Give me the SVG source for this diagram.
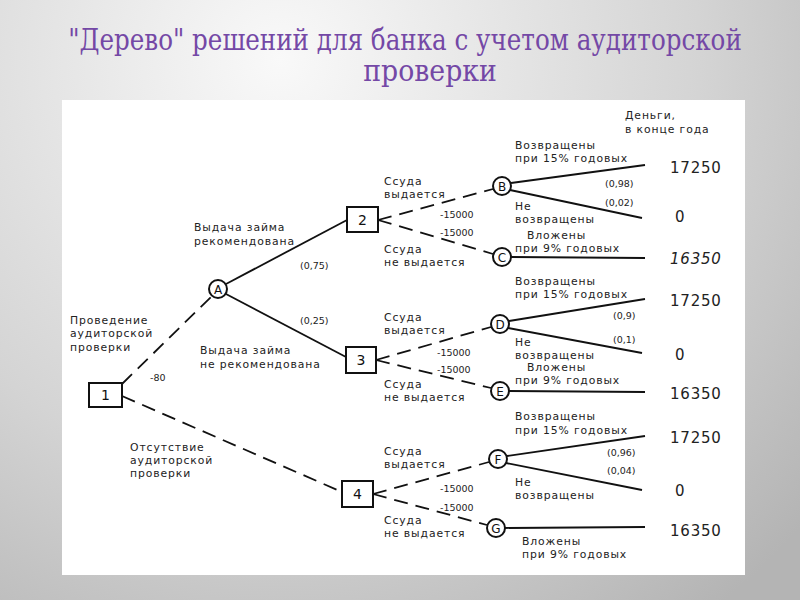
<svg xmlns="http://www.w3.org/2000/svg" width="800" height="600" viewBox="0 0 800 600">
<defs>
<radialGradient id="bg" cx="280" cy="60" r="700" gradientUnits="userSpaceOnUse">
<stop offset="0" stop-color="#f9f9f9"/>
<stop offset="0.6" stop-color="#d4d4d4"/>
<stop offset="1" stop-color="#b4b4b4"/>
</radialGradient>
<style>
.title{font-family:"DejaVu Serif","Liberation Serif",serif;font-size:29px;fill:#7448a6;text-anchor:middle}
.t{font-family:"DejaVu Sans","Liberation Sans",sans-serif;font-size:10.8px;fill:#222;letter-spacing:0.9px}
.p{font-family:"DejaVu Sans","Liberation Sans",sans-serif;font-size:9.5px;fill:#222}
.v{font-family:"DejaVu Sans","Liberation Sans",sans-serif;font-size:15px;fill:#222;letter-spacing:0.8px}
.box{fill:#fff;stroke:#111;stroke-width:2}
.circ{fill:#fff;stroke:#111;stroke-width:2}
.nl{font-family:"DejaVu Sans","Liberation Sans",sans-serif;font-size:14px;fill:#111;text-anchor:middle}
.cl{font-family:"DejaVu Sans","Liberation Sans",sans-serif;font-size:12px;fill:#111;text-anchor:middle}
.sol{stroke:#111;stroke-width:1.8;fill:none}
.dash{stroke:#111;stroke-width:1.8;fill:none;stroke-dasharray:14 8}
</style>
</defs>
<rect width="800" height="600" fill="url(#bg)"/>
<text class="title" transform="translate(405,50) scale(0.8,1)" x="0" y="0" textLength="842" lengthAdjust="spacingAndGlyphs">"Дерево" решений для банка с учетом аудиторской</text>
<text class="title" transform="translate(430,81) scale(0.8,1)" x="0" y="0" textLength="167" lengthAdjust="spacingAndGlyphs">проверки</text>
<rect x="62" y="100" width="683" height="475" fill="#fff"/>

<g id="connectors">
<line class="dash" x1="122" y1="384" x2="212" y2="296"/>
<line class="dash" x1="122" y1="396" x2="342" y2="492"/>
<line class="sol" x1="226" y1="284" x2="347" y2="220"/>
<line class="sol" x1="226" y1="294" x2="346" y2="357"/>
<line class="dash" x1="378" y1="220" x2="493" y2="189"/>
<line class="dash" x1="378" y1="220" x2="493" y2="254"/>
<line class="dash" x1="376" y1="360" x2="491" y2="327"/>
<line class="dash" x1="376" y1="360" x2="491" y2="388"/>
<line class="dash" x1="373" y1="494" x2="489" y2="462"/>
<line class="dash" x1="373" y1="494" x2="487" y2="525"/>
<line class="sol" x1="511" y1="183" x2="645" y2="165"/>
<line class="sol" x1="510" y1="190" x2="642" y2="218"/>
<line class="sol" x1="511" y1="257" x2="645" y2="258"/>
<line class="sol" x1="509" y1="321" x2="645" y2="299"/>
<line class="sol" x1="508" y1="328" x2="642" y2="353"/>
<line class="sol" x1="509" y1="391" x2="645" y2="392"/>
<line class="sol" x1="507" y1="456" x2="645" y2="436"/>
<line class="sol" x1="506" y1="463" x2="642" y2="490"/>
<line class="sol" x1="505" y1="528" x2="645" y2="527"/>
</g>

<g id="node1"><rect class="box" x="89" y="383" width="33" height="24"/><text class="nl" x="105.5" y="400">1</text></g>
<g id="node2"><rect class="box" x="347" y="207" width="31" height="25"/><text class="nl" x="362.5" y="225">2</text></g>
<g id="node3"><rect class="box" x="346" y="347" width="30" height="26"/><text class="nl" x="361" y="365">3</text></g>
<g id="node4"><rect class="box" x="342" y="481" width="31" height="26"/><text class="nl" x="357.5" y="499">4</text></g>
<g id="nodeA"><circle class="circ" cx="218" cy="289" r="9"/><text class="cl" x="218" y="293.5">A</text></g>
<g id="nodeB"><circle class="circ" cx="502" cy="186" r="9"/><text class="cl" x="502" y="190.5">B</text></g>
<g id="nodeC"><circle class="circ" cx="502" cy="257" r="9"/><text class="cl" x="502" y="261.5">C</text></g>
<g id="nodeD"><circle class="circ" cx="500" cy="324" r="9"/><text class="cl" x="500" y="328.5">D</text></g>
<g id="nodeE"><circle class="circ" cx="500" cy="391" r="9"/><text class="cl" x="500" y="395.5">E</text></g>
<g id="nodeF"><circle class="circ" cx="498" cy="459" r="9"/><text class="cl" x="498" y="463.5">F</text></g>
<g id="nodeG"><circle class="circ" cx="496" cy="528" r="9"/><text class="cl" x="496" y="532.5">G</text></g>

<g id="labels">
<text class="t" x="625" y="119">Деньги,</text>
<text class="t" x="625" y="133">в конце года</text>

<text class="t" x="515" y="149">Возвращены</text>
<text class="t" x="515" y="162">при 15% годовых</text>
<text class="p" x="605" y="187">(0,98)</text>
<text class="p" x="605" y="206">(0,02)</text>
<text class="t" x="515" y="210">Не</text>
<text class="t" x="515" y="223">возвращены</text>
<text class="t" x="527" y="239">Вложены</text>
<text class="t" x="515" y="252">при 9% годовых</text>
<text class="t" x="384" y="185">Ссуда</text>
<text class="t" x="384" y="198">выдается</text>
<text class="p" x="440" y="218">-15000</text>
<text class="p" x="440" y="236">-15000</text>
<text class="t" x="384" y="253">Ссуда</text>
<text class="t" x="384" y="266">не выдается</text>

<text class="t" x="194" y="231">Выдача займа</text>
<text class="t" x="194" y="245">рекомендована</text>
<text class="p" x="300" y="269">(0,75)</text>
<text class="p" x="300" y="324">(0,25)</text>
<text class="t" x="70" y="324">Проведение</text>
<text class="t" x="70" y="337">аудиторской</text>
<text class="t" x="70" y="351">проверки</text>
<text class="t" x="200" y="354">Выдача займа</text>
<text class="t" x="200" y="368">не рекомендована</text>

<text class="t" x="384" y="321">Ссуда</text>
<text class="t" x="384" y="334">выдается</text>
<text class="p" x="437" y="356">-15000</text>
<text class="p" x="437" y="373">-15000</text>
<text class="t" x="384" y="388">Ссуда</text>
<text class="t" x="384" y="401">не выдается</text>
<text class="t" x="515" y="285">Возвращены</text>
<text class="t" x="515" y="298">при 15% годовых</text>
<text class="p" x="613" y="319">(0,9)</text>
<text class="p" x="613" y="343">(0,1)</text>
<text class="t" x="515" y="346">Не</text>
<text class="t" x="515" y="359">возвращены</text>
<text class="t" x="527" y="371">Вложены</text>
<text class="t" x="515" y="384">при 9% годовых</text>

<text class="p" x="150" y="381">-80</text>
<text class="t" x="130" y="451">Отсутствие</text>
<text class="t" x="130" y="464">аудиторской</text>
<text class="t" x="130" y="477">проверки</text>

<text class="t" x="515" y="420">Возвращены</text>
<text class="t" x="515" y="434">при 15% годовых</text>
<text class="t" x="384" y="455">Ссуда</text>
<text class="t" x="384" y="468">выдается</text>
<text class="p" x="607" y="456">(0,96)</text>
<text class="p" x="607" y="474">(0,04)</text>
<text class="p" x="440" y="492">-15000</text>
<text class="p" x="440" y="511">-15000</text>
<text class="t" x="515" y="486">Не</text>
<text class="t" x="515" y="499">возвращены</text>
<text class="t" x="384" y="524">Ссуда</text>
<text class="t" x="384" y="537">не выдается</text>
<text class="t" x="522" y="545">Вложены</text>
<text class="t" x="522" y="558">при 9% годовых</text>

<text class="v" x="670" y="173">17250</text>
<text class="v" x="675" y="222">0</text>
<text class="v" x="670" y="264" font-style="italic">16350</text>
<text class="v" x="670" y="306">17250</text>
<text class="v" x="675" y="360">0</text>
<text class="v" x="670" y="399">16350</text>
<text class="v" x="670" y="443">17250</text>
<text class="v" x="675" y="496">0</text>
<text class="v" x="670" y="536">16350</text>
</g>
</svg>
